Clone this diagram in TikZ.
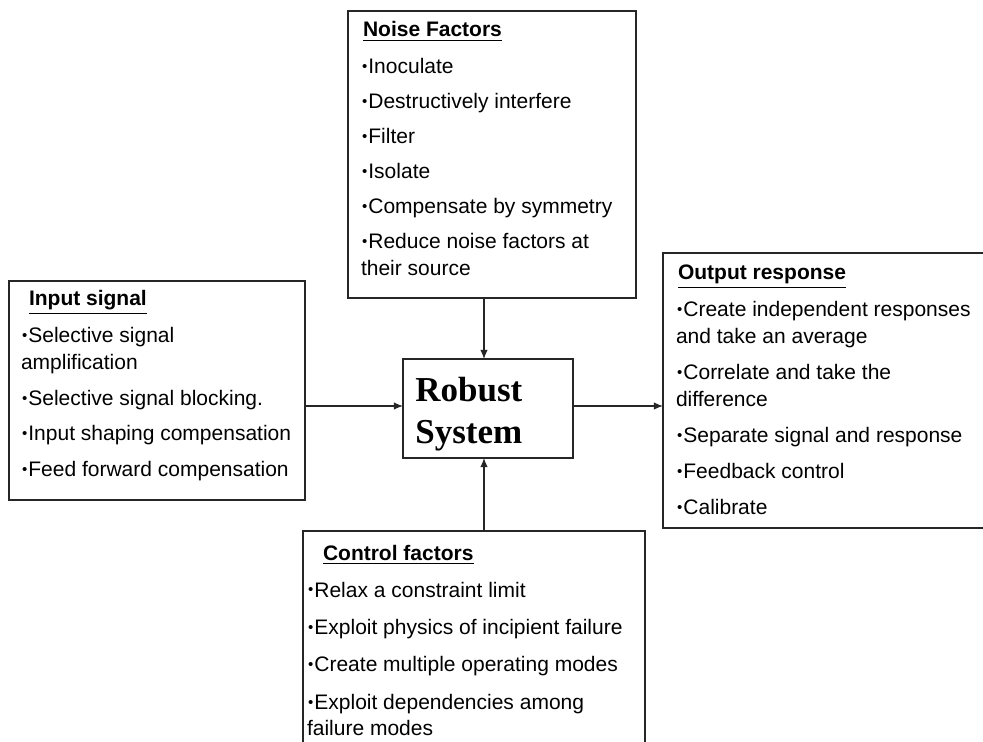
\documentclass[tikz,border=0pt]{standalone}
\usepackage{fontspec}
\setmainfont{Liberation Sans}
\newfontfamily\robustfont{Liberation Serif}
\usetikzlibrary{arrows.meta,calc}
% small list bullet, same advance as the regular one
\newcommand\bul{\makebox[3.7pt][c]{\raisebox{1.1pt}{\fontsize{7.5}{7.5}\selectfont •}}}
\begin{document}
\begin{tikzpicture}[x=0.5pt,y=-0.5pt,
  box/.style={draw=black!85, line width=0.6pt, inner sep=0pt, outer sep=0pt, anchor=north west},
  list/.style={anchor=base west, inner sep=0pt, outer sep=0pt, font=\fontsize{10.5}{13.5}\selectfont},
  arr/.style={draw=black!85, line width=0.6pt, -{Latex[length=4.6pt,width=3.8pt]}},
]
\clip (0,0) rectangle (983,742);
\fill[white] (0,0) rectangle (983,742);

% frames
\node[box, minimum width=144pt, minimum height=143.5pt] (noise)   at (348,11)  {};
\node[box, minimum width=148pt, minimum height=109.5pt] (input)   at (9,281)   {};
\node[box, minimum width=168.5pt, minimum height=137.5pt] (output) at (663,253) {};
\node[box, minimum width=171pt, minimum height=114.5pt] (control) at (303,531) {};
\node[box, minimum width=85pt, minimum height=49.5pt]   (robust)  at (403,359) {};

% centre label
\node[anchor=base west, inner sep=0pt, font=\robustfont\bfseries\fontsize{17.5}{21}\selectfont] (robusttext) at (415,401)
  {\begin{tabular}[t]{@{}l@{}}Robust\\System\end{tabular}};

% lists
\node[list] (noisetext) at (361,37) {\begin{tabular}[t]{@{}l@{}}
  \hspace{1pt}\underline{\textbf{Noise Factors}}\\[5pt]
  \bul Inoculate\\[4pt]
  \bul Destructively interfere\\[4pt]
  \bul Filter\\[4pt]
  \bul Isolate\\[4pt]
  \bul Compensate by symmetry\\[4pt]
  \bul Reduce noise factors at\\
  their source
\end{tabular}};

\node[list] (inputtext) at (21,306) {\begin{tabular}[t]{@{}l@{}}
  \hspace{4pt}\underline{\textbf{Input signal}}\\[5pt]
  \bul Selective signal\\
  amplification\\[4.5pt]
  \bul Selective signal blocking.\\[4pt]
  \bul Input shaping compensation\\[4.5pt]
  \bul Feed forward compensation
\end{tabular}};

\node[list] (outputtext) at (676,280) {\begin{tabular}[t]{@{}l@{}}
  \hspace{1pt}\underline{\textbf{Output response}}\\[5pt]
  \bul Create independent responses\\
  and take an average\\[4.5pt]
  \bul Correlate and take the\\
  difference\\[4.5pt]
  \bul Separate signal and response\\[4.5pt]
  \bul Feedback control\\[4.5pt]
  \bul Calibrate
\end{tabular}};

\node[list] (controltext) at (307,560) {\begin{tabular}[t]{@{}l@{}}
  \hspace{8pt}\underline{\textbf{Control factors}}\\[5pt]
  \bul Relax a constraint limit\\[5.2pt]
  \bul Exploit physics of incipient failure\\[5.2pt]
  \bul Create multiple operating modes\\[5.2pt]
  \bul Exploit dependencies among\\[-0.5pt]
  failure modes
\end{tabular}};

% connector guides
\coordinate (vx) at (484,0);
\coordinate (hy) at (0,406);

% connectors
\draw[arr] (noise.south -| vx) -- (robust.north -| vx);
\draw[arr] (control.north -| vx) -- (robust.south -| vx);
\draw[arr] (input.east |- hy) -- (robust.west |- hy);
\draw[arr] (robust.east |- hy) -- (output.west |- hy);
\end{tikzpicture}
\end{document}
